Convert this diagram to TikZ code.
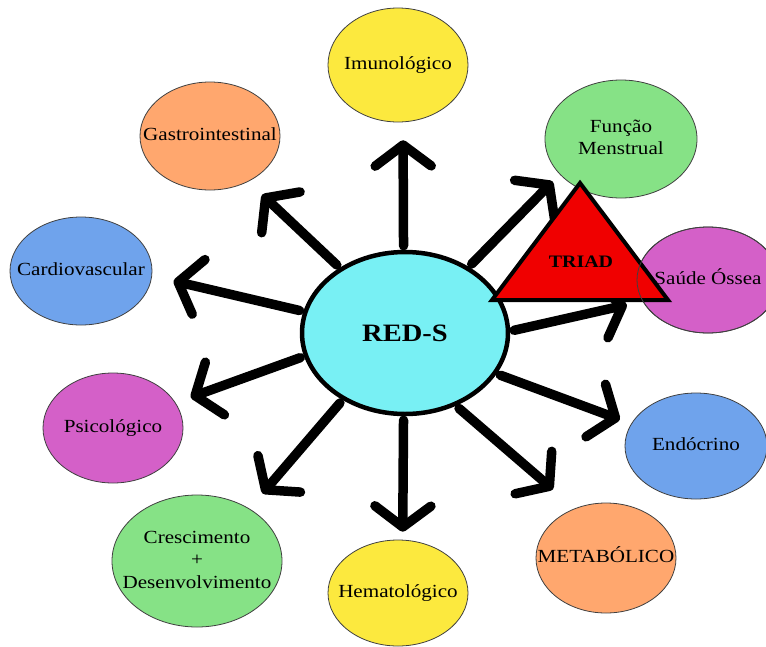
\documentclass[tikz,border=0pt]{standalone}
\usepackage{fontspec}
\setmainfont{Liberation Serif}[FakeStretch=1.14]
\usetikzlibrary{arrows.meta,shapes.geometric}

\definecolor{yellowc}{RGB}{252,233,62}
\definecolor{greenc}{RGB}{134,226,134}
\definecolor{pinkc}{RGB}{212,96,200}
\definecolor{bluec}{RGB}{111,163,236}
\definecolor{orangec}{RGB}{255,167,110}
\definecolor{cyanc}{RGB}{120,240,244}
\definecolor{redc}{RGB}{240,0,0}

\newcommand{\areatext}[1]{\makebox[0pt]{\begin{tabular}{@{}c@{}}#1\end{tabular}}}

\begin{document}
\begin{tikzpicture}[x=1pt,y=-1pt,
            area/.style={ellipse,draw=black!75,line width=0.8pt,inner sep=0pt,minimum width=140,minimum height=110,font=\fontsize{18.5}{22.5}\selectfont},
            core/.style={ellipse,draw=black,line width=4.5pt,fill=cyanc,inner sep=0pt,minimum width=206,minimum height=162,font=\fontsize{25}{30}\selectfont\bfseries},
            spoke/.style={draw,line width=9.5pt,line cap=round,shorten <=4pt,-{Straight Barb[length=21pt,width=56pt,round]}},
            tri/.style={draw=black,line width=4pt,fill=redc,line join=miter}
          ]
          \useasboundingbox (0,0) rectangle (766,646);

          %areas
          \node[area,fill=yellowc,minimum height=114] (imuno) at (398,65) {\areatext{Imunológico}};
          \node[area,fill=greenc,minimum width=152,minimum height=118] (funcao) at (621,139) {\areatext{Função\\Menstrual}};
          \node[area,fill=pinkc,minimum width=142,minimum height=106] (saude) at (708,280) {\raisebox{6pt}{\areatext{Saúde Óssea}}};
          \node[area,fill=bluec,minimum width=142,minimum height=106] (endo) at (696,446) {\areatext{Endócrino}};
          \node[area,fill=orangec] (metab) at (606,558) {\areatext{METABÓLICO}};
          \node[area,fill=yellowc,minimum height=106] (hemat) at (398,593) {\areatext{Hematológico}};
          \node[area,fill=greenc,minimum width=170,minimum height=132] (cresc) at (197,561) {\areatext{Crescimento\\+\\Desenvolvimento}};
          \node[area,fill=pinkc] (psico) at (113,428) {\areatext{Psicológico}};
          \node[area,fill=bluec,minimum width=142,minimum height=108] (cardio) at (81,271) {\areatext{Cardiovascular}};
          \node[area,fill=orangec,minimum height=108] (gastro) at (210,136) {\areatext{Gastrointestinal}};

          %center
          \node[core] (red) at (405,333) {RED-S};

          %arrows
          \draw[spoke,shorten >=18pt] (red.91) -- (imuno.-85);
          \draw[spoke,shorten >=10pt] (red.46) -- (funcao.210);
          \draw[spoke,shorten >=16pt] (red.1) -- (saude.198);
          \draw[spoke,shorten >=12pt] (red.336) -- (endo.161);
          \draw[spoke,shorten >=29pt] (red.305) -- (metab.122);
          \draw[spoke,shorten >=8pt] (red.269) -- (hemat.85);
          \draw[spoke,shorten >=20pt] (red.227) -- (cresc.45);
          \draw[spoke,shorten >=16pt] (red.193) -- (psico.22);
          \draw[spoke,shorten >=22pt] (red.168) -- (cardio.-4);
          \draw[spoke,shorten >=19pt] (red.135) -- (gastro.-50);

          %triad
          \draw[tri] (580,183) -- (668,300) -- (492,300) -- cycle;
          \node[font=\fontsize{17.5}{20}\selectfont\bfseries] (triad) at (581,262) {TRIAD};
          \draw[draw=black!75,line width=0.8pt] (saude.center) ellipse [x radius=71,y radius=53];

      \end{tikzpicture}
\end{document}
